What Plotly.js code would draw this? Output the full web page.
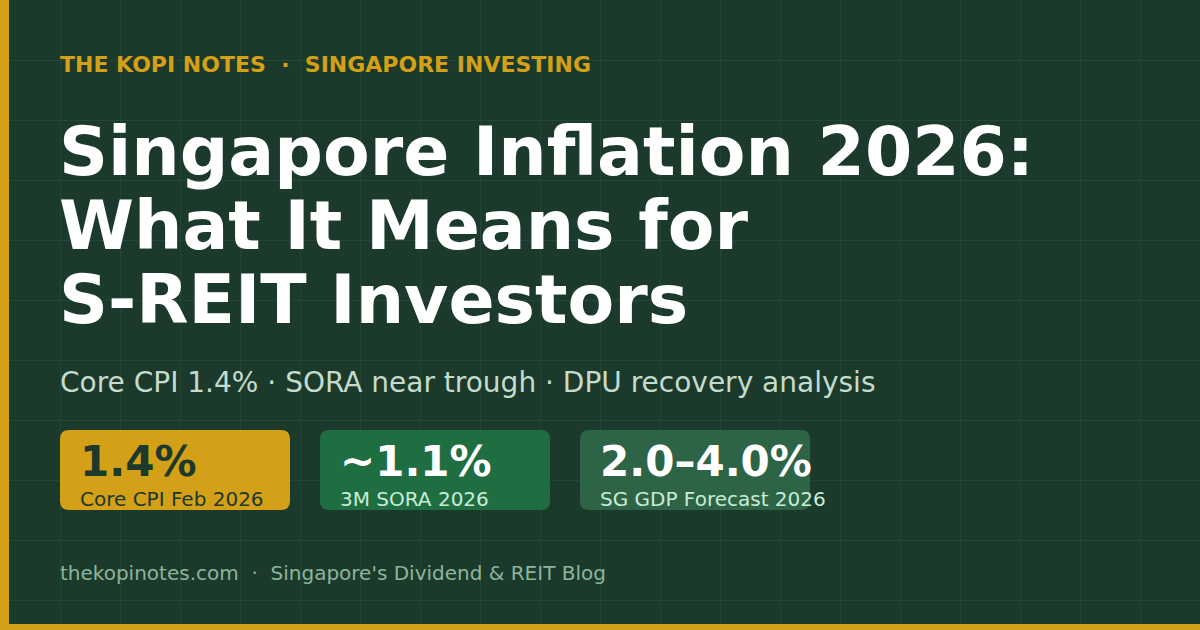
<!DOCTYPE html>
<html>
<head>
<meta charset="utf-8">
<script src="https://cdn.plot.ly/plotly-3.0.1.min.js"></script>
<style>
  html, body { margin: 0; padding: 0; background: #1b3a2b; }
  #card { width: 1200px; height: 630px; }
</style>
</head>
<body>
<div id="card"></div>
<script>
// text content
var kicker = 'THE KOPI NOTES \u00a0·\u00a0 SINGAPORE INVESTING';
var titleLines = ['Singapore Inflation 2026:', 'What It Means for', 'S-REIT Investors'];
var subtitle = 'Core CPI 1.4% · SORA near trough · DPU recovery analysis';
var statValues = ['1.4%', '~1.1%', '2.0–4.0%'];
var statLabels = ['Core CPI Feb 2026', '3M SORA 2026', 'SG GDP Forecast 2026'];
var footer = 'thekopinotes.com \u00a0·\u00a0 Singapore\'s Dividend & REIT Blog';

// look
var BG = '#1b3a2b';
var GOLD = '#d4a017';
var cardFill = [GOLD, '#1f6e42', '#2e6446'];
var valueColor = ['#1b3a2b', '#ffffff', '#ffffff'];
var labelColor = ['#1b3a2b', '#c8ecd6', '#c8ecd6'];
var FONT = 'DejaVu Sans, sans-serif';

function roundRect(x0, y0, x1, y1, r) {
    return 'M' + (x0 + r) + ',' + y0 + ' L' + (x1 - r) + ',' + y0 +
        ' Q' + x1 + ',' + y0 + ' ' + x1 + ',' + (y0 + r) +
        ' L' + x1 + ',' + (y1 - r) + ' Q' + x1 + ',' + y1 + ' ' + (x1 - r) + ',' + y1 +
        ' L' + (x0 + r) + ',' + y1 + ' Q' + x0 + ',' + y1 + ' ' + x0 + ',' + (y1 - r) +
        ' L' + x0 + ',' + (y0 + r) + ' Q' + x0 + ',' + y0 + ' ' + (x0 + r) + ',' + y0 + ' Z';
}

function txt(x, y, text, size, color, bold) {
    return {
        x: x, y: y, xref: 'x', yref: 'y', text: text, showarrow: false,
        xanchor: 'left', yanchor: 'middle', borderpad: 0,
        font: {family: FONT, size: size, color: color, weight: bold ? 700 : 400}
    };
}

var shapes = [
    {type: 'rect', xref: 'x', yref: 'y', x0: 0, x1: 9, y0: 0, y1: 630, fillcolor: GOLD, line: {width: 0}},
    {type: 'rect', xref: 'x', yref: 'y', x0: 0, x1: 1200, y0: 624, y1: 630, fillcolor: GOLD, line: {width: 0}}
];

var annotations = [];
annotations.push(txt(59, 64, kicker, 22, GOLD, true));
titleLines.forEach(function (line, i) {
    annotations.push(txt(58, 151 + i * 74, line, 68, '#ffffff', true));
});
annotations.push(txt(59, 382, subtitle, 28, '#c5dbcd', false));

// stat cards
statValues.forEach(function (v, i) {
    var x0 = 60 + i * 260;
    shapes.push({type: 'path', xref: 'x', yref: 'y', path: roundRect(x0, 430, x0 + 230, 510, 9),
        fillcolor: cardFill[i], line: {width: 0}});
    annotations.push(txt(x0 + 19, 461.5, v, 42, valueColor[i], true));
    annotations.push(txt(x0 + 19, 498.5, statLabels[i], 20, labelColor[i], false));
});

annotations.push(txt(59, 573, footer, 20, '#8db59c', false));

var layout = {
    width: 1200, height: 630,
    margin: {l: 0, r: 0, t: 0, b: 0},
    paper_bgcolor: BG, plot_bgcolor: BG,
    showlegend: false,
    xaxis: {range: [0, 1200], dtick: 60, tick0: 0, showgrid: true, gridcolor: '#234636', gridwidth: 1,
        zeroline: false, showticklabels: false, ticks: '', fixedrange: true},
    yaxis: {range: [630, 0], dtick: 60, tick0: 0, showgrid: true, gridcolor: '#234636', gridwidth: 1,
        zeroline: false, showticklabels: false, ticks: '', fixedrange: true},
    shapes: shapes,
    annotations: annotations
};

Plotly.newPlot('card', [], layout, {displayModeBar: false, staticPlot: true});
</script>
</body>
</html>
